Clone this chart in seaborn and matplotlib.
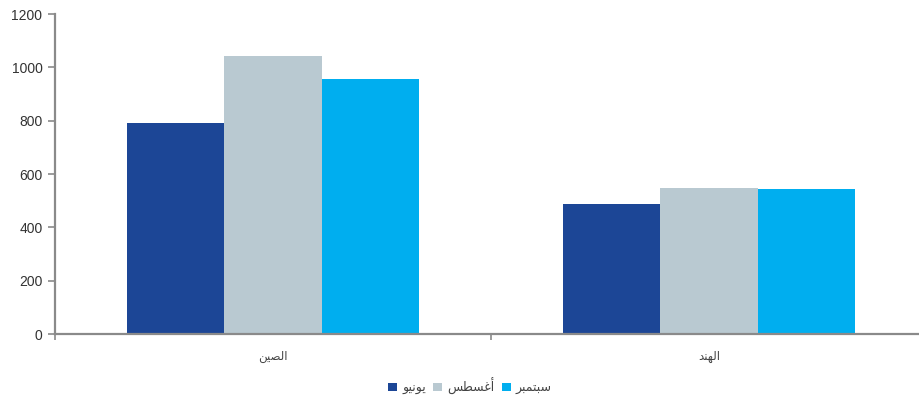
import matplotlib
matplotlib.use("Agg")
import matplotlib.pyplot as plt
import seaborn as sns
import pandas as pd

# ---- data ----
categories = ["الصين", "الهند"]
series = ["يونيو", "أغسطس", "سبتمبر"]
values_june = [790, 487]
values_aug = [1042, 549]
values_sep = [955, 545]
colors = ["#1c4696", "#b9c9d1", "#00aeef"]
y_ticks = [0, 200, 400, 600, 800, 1000, 1200]

# ---- minimal Arabic shaping (presentation forms) for LTR renderer ----
FORMS = {  # iso, fin, ini, med
    "ا": ("\uFE8D", "\uFE8E", None, None),
    "أ": ("\uFE83", "\uFE84", None, None),
    "د": ("\uFEA9", "\uFEAA", None, None),
    "ر": ("\uFEAD", "\uFEAE", None, None),
    "و": ("\uFEED", "\uFEEE", None, None),
    "ب": ("\uFE8F", "\uFE90", "\uFE91", "\uFE92"),
    "ت": ("\uFE95", "\uFE96", "\uFE97", "\uFE98"),
    "س": ("\uFEB1", "\uFEB2", "\uFEB3", "\uFEB4"),
    "ص": ("\uFEB9", "\uFEBA", "\uFEBB", "\uFEBC"),
    "ط": ("\uFEC1", "\uFEC2", "\uFEC3", "\uFEC4"),
    "غ": ("\uFECD", "\uFECE", "\uFECF", "\uFED0"),
    "ل": ("\uFEDD", "\uFEDE", "\uFEDF", "\uFEE0"),
    "م": ("\uFEE1", "\uFEE2", "\uFEE3", "\uFEE4"),
    "ن": ("\uFEE5", "\uFEE6", "\uFEE7", "\uFEE8"),
    "ه": ("\uFEE9", "\uFEEA", "\uFEEB", "\uFEEC"),
    "ي": ("\uFEF1", "\uFEF2", "\uFEF3", "\uFEF4"),
}


def dual(c):
    return c in FORMS and FORMS[c][2] is not None


def shape(word):
    out = []
    n = len(word)
    for i, c in enumerate(word):
        if c not in FORMS:
            out.append(c)
            continue
        jp = i > 0 and dual(word[i - 1])
        jn = i < n - 1 and word[i + 1] in FORMS and dual(c)
        iso, fin, ini, med = FORMS[c]
        if jp and jn:
            f = med
        elif jp:
            f = fin
        elif jn:
            f = ini
        else:
            f = iso
        out.append(f)
    return "".join(out)[::-1]


rows = []
for s, vals in zip(series, [values_june, values_aug, values_sep]):
    for cat, v in zip(categories, vals):
        rows.append({"cat": shape(cat), "series": shape(s), "value": v})
df = pd.DataFrame(rows)

sns.set_style("white")
plt.rcParams["font.family"] = ["Liberation Sans", "DejaVu Sans"]

fig = plt.figure(figsize=(9.2, 3.96), dpi=100)
ax = fig.add_axes([55 / 920, 1 - 334 / 396, (927 - 55) / 920, (334 - 14) / 396])

sns.barplot(data=df, x="cat", y="value", hue="series", palette=colors,
            width=0.67, saturation=1, ax=ax, errorbar=None, linewidth=0)

ax.set_xlim(-0.5, 1.5)
ax.set_ylim(0, 1200)
ax.set_yticks(y_ticks)
ax.set_xlabel("")
ax.set_ylabel("")

spine_c = "#8a8a8a"
for side in ["top", "right"]:
    ax.spines[side].set_visible(False)
for side in ["left", "bottom"]:
    ax.spines[side].set_color(spine_c)
    ax.spines[side].set_linewidth(1.6)

ax.tick_params(axis="y", which="major", length=5, width=1.2, color=spine_c,
               labelsize=10, labelcolor="#333333", pad=4, left=True)
ax.tick_params(axis="x", which="major", length=0, labelsize=8.5,
               labelcolor="#444444", pad=12)
ax.set_xticks([-0.5, 0.5], minor=True)
ax.tick_params(axis="x", which="minor", length=4, width=1.2, color=spine_c,
               bottom=True)

leg = ax.get_legend()
if leg is not None:
    leg.remove()
handles, labels = ax.get_legend_handles_labels()
fig.legend(handles, labels, loc="center", bbox_to_anchor=(470 / 920, 1 - 386 / 396),
           ncol=3, frameon=False, fontsize=9, handlelength=0.7, handleheight=0.7,
           handletextpad=0.4, columnspacing=0.6, labelcolor="#444444")

fig.savefig("out.png", dpi=100)
